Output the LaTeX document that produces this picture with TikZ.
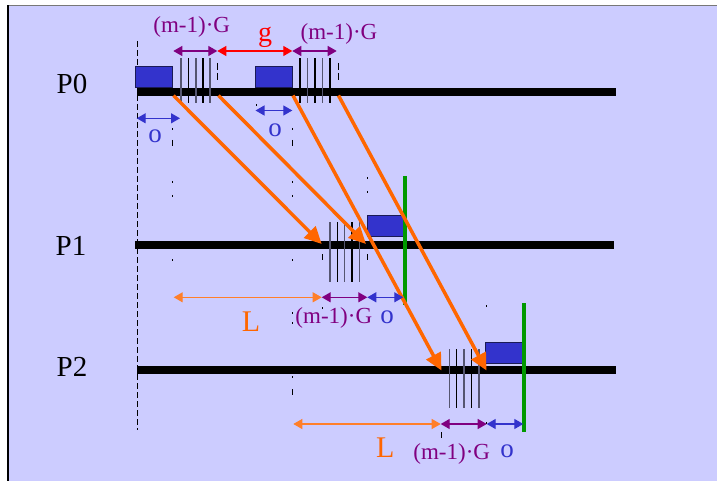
\documentclass[tikz,border=0pt]{standalone}
\usepackage{fontspec}
\setmainfont{Liberation Serif}
\usetikzlibrary{arrows.meta}
\definecolor{lav}{HTML}{CCCCFF}
\definecolor{boxblue}{HTML}{3333CC}
\definecolor{boxedge}{HTML}{1A1A55}
\definecolor{dimblue}{HTML}{3333CC}
\definecolor{purp}{HTML}{800080}
\definecolor{orng}{HTML}{FF6600}
\definecolor{lorng}{HTML}{FF7F2A}
\definecolor{grn}{HTML}{009900}
\definecolor{markgray}{HTML}{555570}
\definecolor{framegray}{HTML}{777777}
\begin{document}
\begin{tikzpicture}[x=1pt,y=-1pt,
  procline/.style={line width=7.5pt,black},
  pbox/.style={draw=boxedge,fill=boxblue,line width=1pt,minimum width=37pt,minimum height=21pt,inner sep=0pt,outer sep=0pt},
  msg/.style={orng,line width=3.5pt,-{Triangle[length=17pt,width=16pt]}},
  dimarrow/.style={line width=1.3pt,{Triangle[length=9pt,width=10pt]}-{Triangle[length=9pt,width=10pt]}},
  lenarrow/.style={lorng,line width=1.1pt,{Triangle[length=9pt,width=10pt]}-{Triangle[length=9pt,width=10pt]}},
  syncline/.style={grn,line width=4pt},
  mk/.style={line width=1.3pt},
  guide/.style={black,line width=0.8pt},
  plabel/.style={anchor=base,inner sep=0pt,font=\fontsize{29}{30}\selectfont},
  glabel/.style={anchor=base,inner sep=0pt,purp,font=\fontsize{23}{24}\selectfont},
  olabel/.style={anchor=base,inner sep=0pt,dimblue,font=\fontsize{27}{28}\selectfont},
  llabel/.style={anchor=base,inner sep=0pt,orng,font=\fontsize{30}{31}\selectfont}]
\useasboundingbox (0,0) rectangle (717,481);
% background and frame
\fill[white] (0,0) rectangle (717,481);
\fill[lav] (8,6) rectangle (717,481);
\draw[framegray,line width=1.5pt] (8,5.5) -- (717,5.5);
\draw[black,line width=1.5pt] (8,5.5) -- (8,481);

% process time lines
\coordinate (p0a) at (137,92); \coordinate (p0b) at (616,92);
\coordinate (p1a) at (135,245); \coordinate (p1b) at (614,245);
\coordinate (p2a) at (137,370); \coordinate (p2b) at (616,370);
\draw[procline] (p0a) -- (p0b);
\draw[procline] (p1a) -- (p1b);
\draw[procline] (p2a) -- (p2b);

% start dashed line
\coordinate (st) at (137.5,41); \coordinate (sb) at (137.5,430);
\draw[black,line width=1.8pt,dash pattern=on 6pt off 3pt] (st) -- (sb);

% process labels
\node[plabel] (P0) at (72,94) {P0};
\node[plabel] (P1) at (71,255.7) {P1};
\node[plabel] (P2) at (72,376.7) {P2};

% overhead boxes
\node[pbox] (b1) at (154,77) {};
\node[pbox] (b2) at (274,77) {};
\node[pbox] (b3) at (386,226) {};
\node[pbox] (b4) at (504.3,353) {};

% byte marks
\foreach \x [count=\i] in {181,188.3,196,203,210,300,307.7,315,322.3,330}{
  \ifodd\i\def\mc{markgray}\else\def\mc{black}\fi
  \draw[mk,\mc] (\x,58.3) -- (\x,102.7);}
\foreach \x [count=\i] in {330,337.3,344.7,352,359.7}{
  \ifodd\i\def\mc{markgray}\else\def\mc{black}\fi
  \draw[mk,\mc] (\x,222) -- (\x,282);}
\foreach \x [count=\i] in {449.3,456.7,464,471.7,479}{
  \ifodd\i\def\mc{markgray}\else\def\mc{black}\fi
  \draw[mk,\mc] (\x,349) -- (\x,408);}

% small guide dashes
\foreach \x/\ya/\yb in {217/63/70,217/73/80,338/63/70,338/73/80,
  172.5/128/130,172.5/140/146,172.5/181/183,172.5/195/197,172.5/259/261,
  256/104.5/106.5,292.5/128/130,292.5/140/146,292.5/181/183,292.5/195/197,
  292.5/259/261,292.5/312/314,292.5/322/324,292.5/376/378,292.5/389/395,
  367.5/177.5/179.5,367.5/191/193,367.5/254/260,322.5/254/260,322.5/307/309,
  486.5/305/307,486.5/422/424,441.5/432/438}{
  \draw[guide] (\x,\ya) -- (\x,\yb);}

% green sync lines
\coordinate (g1a) at (405,176); \coordinate (g1b) at (405,305);
\coordinate (g2a) at (524,303.3); \coordinate (g2b) at (524,431.7);
\draw[syncline] (g1a) -- (g1b);
\draw[syncline] (g2a) -- (g2b);

% messages
\coordinate (s1) at (173.5,95.5); \coordinate (t1) at (321.7,244);
\coordinate (s2) at (218.5,95.5); \coordinate (t2) at (366,244);
\coordinate (s3) at (293,95.5);   \coordinate (t3) at (441.5,370.5);
\coordinate (s4) at (338.5,95.5); \coordinate (t4) at (486.5,370.5);
\draw[msg] (s1) -- (t1);
\draw[msg] (s2) -- (t2);
\draw[msg] (s3) -- (t3);
\draw[msg] (s4) -- (t4);

% top dimensions
\coordinate (d0) at (173.3,51); \coordinate (d1) at (217.3,51);
\coordinate (d2) at (292.3,51); \coordinate (d3) at (336.7,51);
\draw[dimarrow,purp] (d0) -- (d1);
\draw[dimarrow,red] (d1) -- (d2);
\draw[dimarrow,purp] (d2) -- (d3);
\node[glabel] (lg1) at (191.7,33) {(m-1)·G};
\node[anchor=base,inner sep=0pt,red,font=\fontsize{28}{29}\selectfont] (lgap) at (265,41.5) {g};
\node[glabel] (lg2) at (339,39.5) {(m-1)·G};

% overhead at sender
\coordinate (o1a) at (136.7,118.3); \coordinate (o1b) at (180,118.3);
\coordinate (o2a) at (255.5,110.5); \coordinate (o2b) at (292.3,110.5);
\draw[dimarrow,dimblue] (o1a) -- (o1b);
\draw[dimarrow,dimblue] (o2a) -- (o2b);
\node[olabel] (lo1) at (155,143) {o};
\node[olabel] (lo2) at (275,137) {o};

% P1 dimensions
\coordinate (e0) at (173.7,297.3); \coordinate (e1) at (321.7,297.3);
\coordinate (e2) at (367.3,297.3); \coordinate (e3) at (403.3,297.3);
\draw[lenarrow] (e0) -- (e1);
\draw[dimarrow,purp] (e1) -- (e2);
\draw[dimarrow,dimblue] (e2) -- (e3);
\node[llabel] (lL1) at (251,331) {L};
\node[glabel] (lg3) at (333.8,323) {(m-1)·G};
\node[olabel] (lo3) at (387,323) {o};

% P2 dimensions
\coordinate (f0) at (293.3,424); \coordinate (f1) at (440.7,424);
\coordinate (f2) at (486.7,424); \coordinate (f3) at (523.3,424);
\draw[lenarrow] (f0) -- (f1);
\draw[dimarrow,purp] (f1) -- (f2);
\draw[dimarrow,dimblue] (f2) -- (f3);
\node[llabel] (lL2) at (385.3,457.7) {L};
\node[glabel] (lg4) at (451.7,459) {(m-1)·G};
\node[olabel] (lo4) at (507,457) {o};
\end{tikzpicture}
\end{document}
